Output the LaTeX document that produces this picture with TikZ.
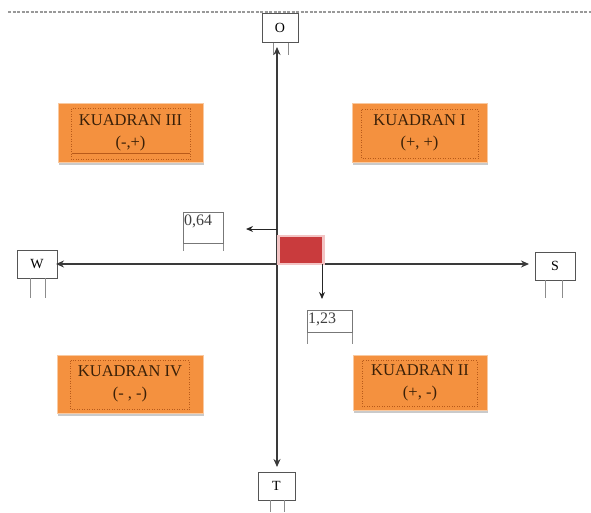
\documentclass[tikz,border=0pt]{standalone}
\usepackage{fontspec}
\setmainfont{Liberation Serif}
\usetikzlibrary{arrows.meta,shadows}
\definecolor{qorange}{HTML}{F4913F}
\definecolor{qedge}{HTML}{F9C9A0}
\definecolor{qdark}{HTML}{B85A1A}
\definecolor{qtext}{HTML}{3A2008}
\definecolor{redbox}{HTML}{C93B3D}
\definecolor{rededge}{HTML}{F3C4C4}
\definecolor{axisgray}{HTML}{3A3A3A}
\definecolor{boxgray}{HTML}{555555}
\begin{document}
\begin{tikzpicture}[x=1pt,y=-1pt,
  quad/.style={rectangle, fill=qorange, draw=qedge, line width=0.8pt,
    text=qtext, align=center, font=\fontsize{16.5}{22}\selectfont, inner sep=0pt,
    drop shadow={shadow xshift=1pt, shadow yshift=-3pt, fill=black!35, opacity=0.6}},
  inner/.style={draw=qdark, dotted, line width=0.5pt},
  letterbox/.style={rectangle, draw=boxgray, line width=1pt, fill=white,
    font=\fontsize{14}{16}\selectfont, inner sep=0pt},
  numbox/.style={rectangle, draw=boxgray!80, line width=0.7pt, inner sep=0pt},
  numtext/.style={font=\fontsize{16}{18}\selectfont, text=black!75, inner sep=0pt},
  tick/.style={draw=black!45, line width=0.5pt},
  axis/.style={draw=axisgray, line width=2.2pt},
  arr/.style={-{Stealth[length=8pt,width=7pt]}},
  smallarr/.style={draw=black!85, line width=1pt, -{Stealth[length=7pt,width=6pt]}}
]
\useasboundingbox (0,0) rectangle (591,512);

% top dashed line
\draw[black!40, line width=1.6pt, dash pattern=on 3pt off 1.5pt] (8,12) -- (591,12);

% letter boxes
\node[letterbox, minimum width=36pt, minimum height=29pt] (O) at (280,28) {O};
\node[letterbox, minimum width=40pt, minimum height=28pt] (W) at (37,264) {W};
\node[letterbox, minimum width=40pt, minimum height=28pt] (S) at (555,266) {S};
\node[letterbox, minimum width=37pt, minimum height=28pt] (T) at (276.5,486) {T};

% ticks under letter boxes
\draw[tick] (273,42.5) -- (273,55) (288,42.5) -- (288,55);
\draw[tick] (30,278) -- (30,298) (45,278) -- (45,298);
\draw[tick] (545,280) -- (545,298) (562,280) -- (562,298);
\draw[tick] (270,500) -- (270,512) (284,500) -- (284,512);

% centre and axes
\coordinate (C) at (277,264);
\coordinate (Otip) at (277,47);
\coordinate (Ttip) at (277,467);
\coordinate (Wtip) at (56,264);
\coordinate (Stip) at (529,264);
\draw[axis, arr] (C) -- (Otip);
\draw[axis, arr] (C) -- (Ttip);
\draw[axis, arr] (C) -- (Wtip);
\draw[axis, arr] (C) -- (Stip);

% red box
\node[rectangle, fill=redbox, draw=rededge, line width=2.5pt,
  minimum width=45pt, minimum height=28pt, inner sep=0pt] (R) at (301,250) {};

% small arrows
\coordinate (a1s) at (277,229);
\coordinate (a1e) at (246,229);
\draw[smallarr] (a1s) -- (a1e);
\coordinate (a2s) at (322,264);
\coordinate (a2e) at (322,299);
\draw[smallarr] (a2s) -- (a2e);

% number boxes
\node[numbox, minimum width=40pt, minimum height=31pt, anchor=north west] (n1) at (183,212) {};
\node[numtext, anchor=north west] (t1) at (184,215) {0,64};
\draw[tick] (n1.south west) -- ++(0,7) (n1.south east) -- ++(0,7);
\node[numbox, minimum width=45pt, minimum height=22pt, anchor=north west] (n2) at (307,310) {};
\node[numtext, anchor=north west] (t2) at (308,313) {1,23};
\draw[tick] (n2.south west) -- ++(0,11) (n2.south east) -- ++(0,11);

% quadrant boxes
\node[quad, minimum width=145pt, minimum height=59pt] (q3) at (130.5,132.5) {KUADRAN III\\(-,+)};
\node[quad, minimum width=135pt, minimum height=59pt] (q1) at (419.5,132.5) {KUADRAN I\\(+, +)};
\node[quad, minimum width=146pt, minimum height=58pt] (q4) at (130,384) {KUADRAN IV\\(- , -)};
\node[quad, minimum width=134pt, minimum height=55pt] (q2) at (420,382.5) {KUADRAN II\\(+, -)};

% inner dotted frames
\draw[inner] ([shift={(14,6)}]q3.north west) rectangle ([shift={(-13,-3)}]q3.south east);
\draw[qdark, line width=1pt] ([shift={(14,-9)}]q3.south west) -- ([shift={(-13,-9)}]q3.south east);
\draw[inner] ([shift={(10,7)}]q1.north west) rectangle ([shift={(-9,-4)}]q1.south east);
\draw[inner] ([shift={(14,6)}]q4.north west) rectangle ([shift={(-14,-4)}]q4.south east);
\draw[inner] ([shift={(10,6)}]q2.north west) rectangle ([shift={(-10,-4)}]q2.south east);
\end{tikzpicture}
\end{document}
